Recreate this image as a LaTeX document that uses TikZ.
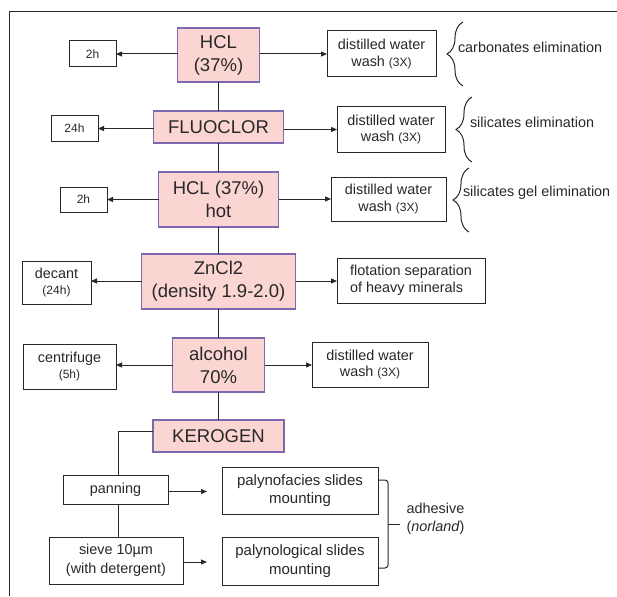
\documentclass[tikz,border=0pt]{standalone}
\usepackage{fontspec}
\setmainfont{Liberation Sans}
\usetikzlibrary{arrows.meta,decorations.pathreplacing,calc}
\definecolor{pinkfill}{RGB}{250,213,210}
\definecolor{pinkdraw}{RGB}{125,105,175}
\definecolor{ink}{RGB}{40,40,40}
\newcommand{\smtxt}[1]{{\fontsize{12}{16.5}\selectfont #1}}
\begin{document}
\begin{tikzpicture}[x=1pt,y=-1pt,
  every node/.style={inner sep=0pt, outer sep=0pt, text=ink},
  pinkbox/.style={draw=pinkdraw, fill=pinkfill, line width=1.2pt, align=center, font=\fontsize{18.5}{23}\selectfont},
  whitebox/.style={draw=ink, line width=1pt, fill=white, align=center, font=\fontsize{14.4}{16.5}\selectfont},
  lowbox/.style={whitebox, font=\fontsize{14.4}{18.5}\selectfont},
  timebox/.style={whitebox, font=\fontsize{12}{14}\selectfont},
  conn/.style={draw=ink, line width=1pt},
  arr/.style={conn, -{Triangle[length=6pt,width=5pt]}},
  lbl/.style={font=\fontsize{14.4}{17}\selectfont, anchor=west},
  brc/.style={conn, decorate, decoration={brace, amplitude=16pt, aspect=0.5}}
]
\useasboundingbox (0,0) rectangle (617,596);
\draw[conn] (9,596) -- (9,12) -- (617,12);

% trunk boxes
\node[pinkbox, minimum width=82, minimum height=54] (hcl) at (218.5,55) {HCL\\(37\%)};
\node[pinkbox, minimum width=130, minimum height=32] (fluo) at (218.5,127) {FLUOCLOR};
\node[pinkbox, minimum width=120, minimum height=55] (hot) at (218.5,199.5) {HCL (37\%)\\hot};
\node[pinkbox, minimum width=154, minimum height=55] (zn) at (218.5,281.5) {ZnCl2\\(density 1.9-2.0)};
\node[pinkbox, minimum width=92, minimum height=54] (alc) at (218.5,365) {alcohol\\70\%};
\node[pinkbox, minimum width=131, minimum height=32] (ker) at (218.5,436) {KEROGEN};

% left boxes
\node[timebox, minimum width=47, minimum height=26] (t1) at (92.5,54) {2h};
\node[timebox, minimum width=47, minimum height=26] (t2) at (74.5,128.5) {24h};
\node[timebox, minimum width=47, minimum height=25] (t3) at (83.5,199.5) {2h};
\node[whitebox, minimum width=69, minimum height=43] (dec) at (56.5,282.5) {decant\\\smtxt{(24h)}};
\node[whitebox, minimum width=93, minimum height=45] (cen) at (69.5,366.5) {centrifuge\\\smtxt{(5h)}};

% right boxes
\node[whitebox, minimum width=109, minimum height=46] (dw1) at (381.5,54) {distilled water\\wash \smtxt{(3X)}};
\node[whitebox, minimum width=108, minimum height=45] (dw2) at (391,129.5) {distilled water\\wash \smtxt{(3X)}};
\node[whitebox, minimum width=115, minimum height=44] (dw3) at (388.5,199) {distilled water\\wash \smtxt{(3X)}};
\node[whitebox, minimum width=148, minimum height=45, align=left] (flo) at (411,280.5) {flotation separation\\of heavy minerals};
\node[whitebox, minimum width=116, minimum height=45] (dw4) at (370,364.5) {distilled water\\wash \smtxt{(3X)}};

% braces and labels
\draw[brc] (463,86) -- (463,22);
\node[lbl] (l1) at (458,47) {carbonates elimination};
\draw[brc] (472,162) -- (472,97);
\node[lbl] (l2) at (470,122) {silicates elimination};
\draw[brc] (469,232) -- (469,168);
\node[lbl] (l3) at (463,193) {silicates gel elimination};

% trunk
\draw[conn] (hcl) -- (fluo);
\draw[conn] (fluo) -- (hot);
\draw[conn] (hot) -- (zn);
\draw[conn] (zn) -- (alc);
\draw[conn] (alc) -- (ker);

% side arrows
\draw[arr] (hcl.west |- t1) -- (t1.east);
\draw[arr] (hcl.east |- dw1) -- (dw1.west);
\draw[arr] (fluo.west |- t2) -- (t2.east);
\draw[arr] (fluo.east |- dw2) -- (dw2.west);
\draw[arr] (hot.west |- t3) -- (t3.east);
\draw[arr] (hot.east |- dw3) -- (dw3.west);
\draw[arr] (zn.west |- 0,281) -- (dec.east |- 0,281);
\draw[arr] (zn.east |- 0,281) -- (flo.west |- 0,281);
\draw[arr] (alc.west) -- (cen.east |- alc.west);
\draw[arr] (alc.east) -- (dw4.west |- alc.east);

% bottom part
\node[lowbox, minimum width=105, minimum height=29] (pan) at (115.5,489.5) {panning};
\node[lowbox, minimum width=134, minimum height=47] (sie) at (116,560.5) {sieve 10µm\\(with detergent)};
\node[lowbox, font=\fontsize{15}{18.5}\selectfont, minimum width=156, minimum height=47] (pf) at (300,490.5) {palynofacies slides\\mounting};
\node[lowbox, font=\fontsize{15}{18.5}\selectfont, minimum width=156, minimum height=48] (pl) at (300,561) {palynological slides\\mounting};
\node[font=\fontsize{14.4}{18}\selectfont, align=center] (adh) at (435.5,519) {adhesive\\(\textit{norland})};

\draw[conn] ([yshift=5pt]ker.west) -| ([xshift=2.5pt]pan.north);
\draw[conn] ([xshift=2.5pt]pan.south) -- ([xshift=2.5pt]pan.south |- sie.north);
\draw[arr, shorten >=15pt] ([yshift=-2pt]pan.east) -- ([yshift=-2pt]pan.east -| pf.west);
\draw[arr, shorten >=15pt] ([yshift=-1.5pt]sie.east) -- ([yshift=-1.5pt]sie.east -| pl.west);
\draw[conn, rounded corners=3pt] ([yshift=10.5pt]pf.east) -- ([yshift=10.5pt,xshift=10pt]pf.east) -- ([yshift=-7pt,xshift=10pt]pl.east) -- ([yshift=-7pt]pl.east);
\draw[conn] ($([yshift=10.5pt,xshift=10pt]pf.east)!0.51!([yshift=-7pt,xshift=10pt]pl.east)$) -- ++(12,0);
\end{tikzpicture}
\end{document}
